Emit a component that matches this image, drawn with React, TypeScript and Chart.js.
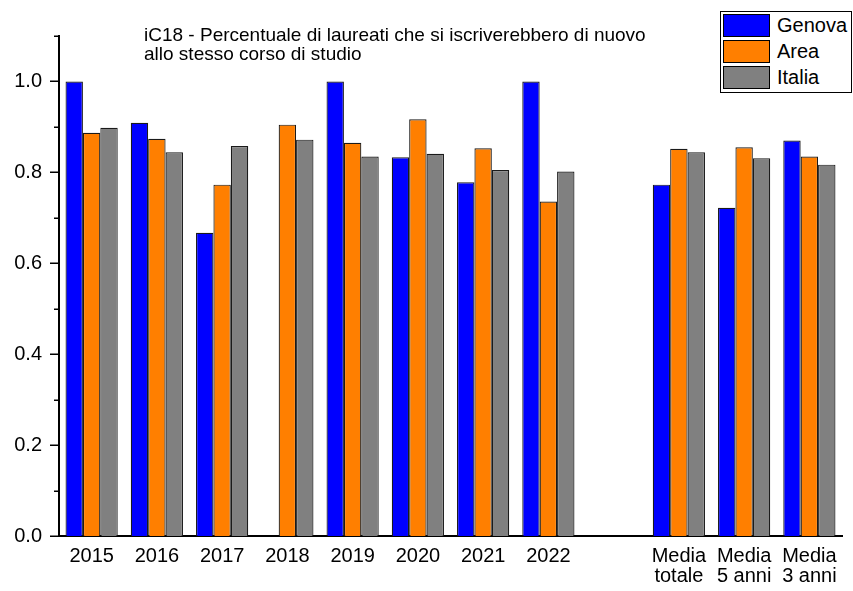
import React, { useEffect, useRef } from "react";
import { Chart, registerables } from "chart.js";

Chart.register(...registerables);

const categories: (string | string[])[] = [
  "2015", "2016", "2017", "2018", "2019", "2020", "2021", "2022", "",
  ["Media", "totale"], ["Media", "5 anni"], ["Media", "3 anni"],
];
const genova: (number | null)[] = [1.0, 0.909, 0.667, null, 1.0, 0.833, 0.778, 1.0, null, 0.773, 0.722, 0.87];
const area: (number | null)[] = [0.887, 0.874, 0.773, 0.905, 0.865, 0.917, 0.853, 0.736, null, 0.852, 0.855, 0.835];
const italia: (number | null)[] = [0.898, 0.844, 0.858, 0.872, 0.835, 0.841, 0.805, 0.802, null, 0.844, 0.831, 0.817];
const seriesNames = ["Genova", "Area", "Italia"];
const seriesColors = ["#0000ff", "#ff7f00", "#808080"];
const titleLines = [
  "iC18 - Percentuale di laureati che si iscriverebbero di nuovo",
  "allo stesso corso di studio",
];

const FONT = "'Liberation Sans', Arial, sans-serif";

const yTicksPlugin = {
  id: "yTicksPlugin",
  afterDraw(chart: any) {
    const y = chart.scales.y;
    const ctx = chart.ctx;
    const left = chart.chartArea.left;
    ctx.save();
    ctx.strokeStyle = "#000";
    ctx.lineWidth = 1.5;
    y.ticks.forEach((t: any) => {
      const major = Math.round(t.value * 10) % 2 === 0;
      const py = Math.round(y.getPixelForValue(t.value)) + 0.25;
      const len = major ? 9 : 5;
      ctx.beginPath();
      ctx.moveTo(left - len, py);
      ctx.lineTo(left, py);
      ctx.stroke();
    });
    ctx.restore();
  },
};

export default function App() {
  const ref = useRef<HTMLCanvasElement | null>(null);
  useEffect(() => {
    if (!ref.current) return;
    const data = [genova, area, italia];
    const chart = new Chart(ref.current, {
      type: "bar",
      data: {
        labels: categories,
        datasets: seriesNames.map((n, i) => ({
          label: n,
          data: data[i],
          backgroundColor: seriesColors[i],
          borderColor: "#1a1a1a",
          borderWidth: 1.2,
          barPercentage: 1.0,
          categoryPercentage: 0.8,
        })),
      },
      options: {
        animation: false,
        responsive: false,
        devicePixelRatio: 1,
        layout: { padding: { top: 36, right: 11, bottom: 0, left: 0 } },
        plugins: { legend: { display: false }, title: { display: false }, tooltip: { enabled: false } },
        scales: {
          x: {
            grid: { display: false, drawTicks: false },
            border: { display: true, color: "#000", width: 2 },
            ticks: {
              autoSkip: false,
              maxRotation: 0,
              minRotation: 0,
              padding: 10,
              color: "#000",
              font: { family: FONT, size: 20, lineHeight: 1.0 },
            },
            afterFit(scale: any) {
              scale.height = 55;
              scale.paddingLeft = 0;
              scale.paddingRight = 0;
            },
          },
          y: {
            min: 0,
            max: 1.1,
            grid: { display: false, drawTicks: false },
            border: { display: true, color: "#000", width: 2 },
            ticks: {
              stepSize: 0.1,
              autoSkip: false,
              padding: 17,
              color: "#000",
              font: { family: FONT, size: 20 },
              callback: (v: any) => {
                const n = Math.round(Number(v) * 10);
                return n % 2 === 0 && n <= 10 ? (n / 10).toFixed(1) : "";
              },
            },
            afterFit(scale: any) {
              scale.width = 59;
              scale.paddingTop = 0;
              scale.paddingBottom = 0;
            },
          },
        },
      },
      plugins: [yTicksPlugin],
    } as any);
    return () => chart.destroy();
  }, []);

  return (
    <div style={{ position: "absolute", left: 0, top: 0, width: 853, height: 591, background: "#fff", fontFamily: FONT }}>
      <canvas ref={ref} width={853} height={591} style={{ width: 853, height: 591, display: "block" }} />
      <div
        style={{
          position: "absolute",
          left: 144,
          top: 25.4,
          fontSize: 19,
          lineHeight: "19px",
          color: "#000",
          whiteSpace: "nowrap",
        }}
      >
        {titleLines.map((l, i) => (
          <div key={i}>{l}</div>
        ))}
      </div>
      <div
        style={{
          position: "absolute",
          left: 720,
          top: 11,
          width: 132,
          height: 82,
          boxSizing: "border-box",
          border: "1px solid #000",
          background: "#fff",
        }}
      >
        {seriesNames.map((n, i) => (
          <React.Fragment key={n}>
            <div
              style={{
                position: "absolute",
                left: 2,
                top: 2 + i * 26,
                width: 47,
                height: 23,
                boxSizing: "border-box",
                border: "1px solid #000",
                background: seriesColors[i],
              }}
            />
            <div
              style={{
                position: "absolute",
                left: 56,
                top: 2 + i * 26,
                height: 23,
                lineHeight: "23px",
                fontSize: 20,
                color: "#000",
                whiteSpace: "nowrap",
              }}
            >
              {n}
            </div>
          </React.Fragment>
        ))}
      </div>
    </div>
  );
}
